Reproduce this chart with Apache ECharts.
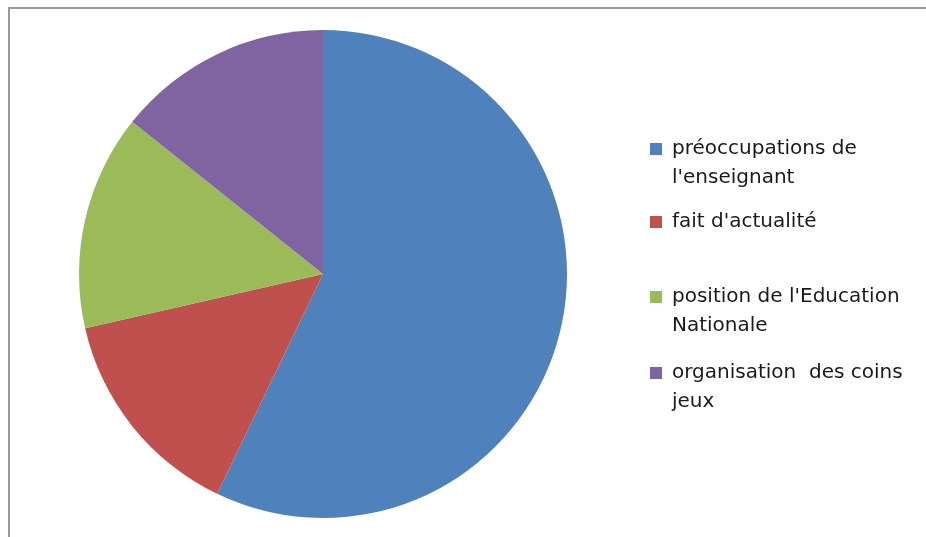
<!DOCTYPE html>
<html>
<head>
<meta charset="utf-8">
<script src="https://cdn.jsdelivr.net/npm/echarts@6/dist/echarts.min.js"></script>
<style>html,body{margin:0;padding:0;background:#fff;}#c{width:926px;height:537px;}</style>
</head>
<body>
<div id="c"></div>
<script>
const categories = ["préoccupations de l'enseignant", "fait d'actualité", "position de l'Education Nationale", "organisation des coins jeux"];
const legendLabels = ["préoccupations de\nl'enseignant", "fait d'actualité", "position de l'Education\nNationale", "organisation  des coins\njeux"];
const values = [4, 1, 1, 1];
const colors = ['#4F81BD', '#C0504D', '#9BBB59', '#8064A2'];
const legendCenters = [149, 222, 297, 373];

const LH = 29;
const chart = echarts.init(document.getElementById('c'), null, {renderer: 'canvas'});

const legends = categories.map((name, i) => {
  const lines = legendLabels[i].split('\n').length;
  // multi-line labels get a blank leading line so the icon sits on the first line
  const text = lines > 1 ? ' \n' + legendLabels[i] : legendLabels[i];
  const total = lines > 1 ? lines + 1 : 1;
  return {
    data: [name],
    orient: 'vertical',
    left: 650,
    top: legendCenters[i] - total * LH / 2,
    padding: 0,
    itemWidth: 12,
    itemHeight: 12,
    icon: 'rect',
    selectedMode: false,
    formatter: () => text,
    textStyle: {
      fontFamily: 'DejaVu Sans',
      fontSize: 20,
      color: '#1a1a1a',
      lineHeight: LH,
      padding: [0, 0, 0, 5]
    }
  };
});

chart.setOption({
  animation: false,
  color: colors,
  graphic: [{
    type: 'polyline',
    shape: {points: [[9, 540], [9, 8], [940, 8]]},
    style: {stroke: '#9a9a9a', lineWidth: 2, fill: null}
  }],
  legend: legends,
  series: [{
    type: 'pie',
    center: [323, 274],
    radius: 244,
    startAngle: 90,
    clockwise: true,
    label: {show: false},
    labelLine: {show: false},
    emphasis: {disabled: true},
    itemStyle: {borderWidth: 0},
    data: categories.map((name, i) => ({name, value: values[i]}))
  }]
});
</script>
</body>
</html>
